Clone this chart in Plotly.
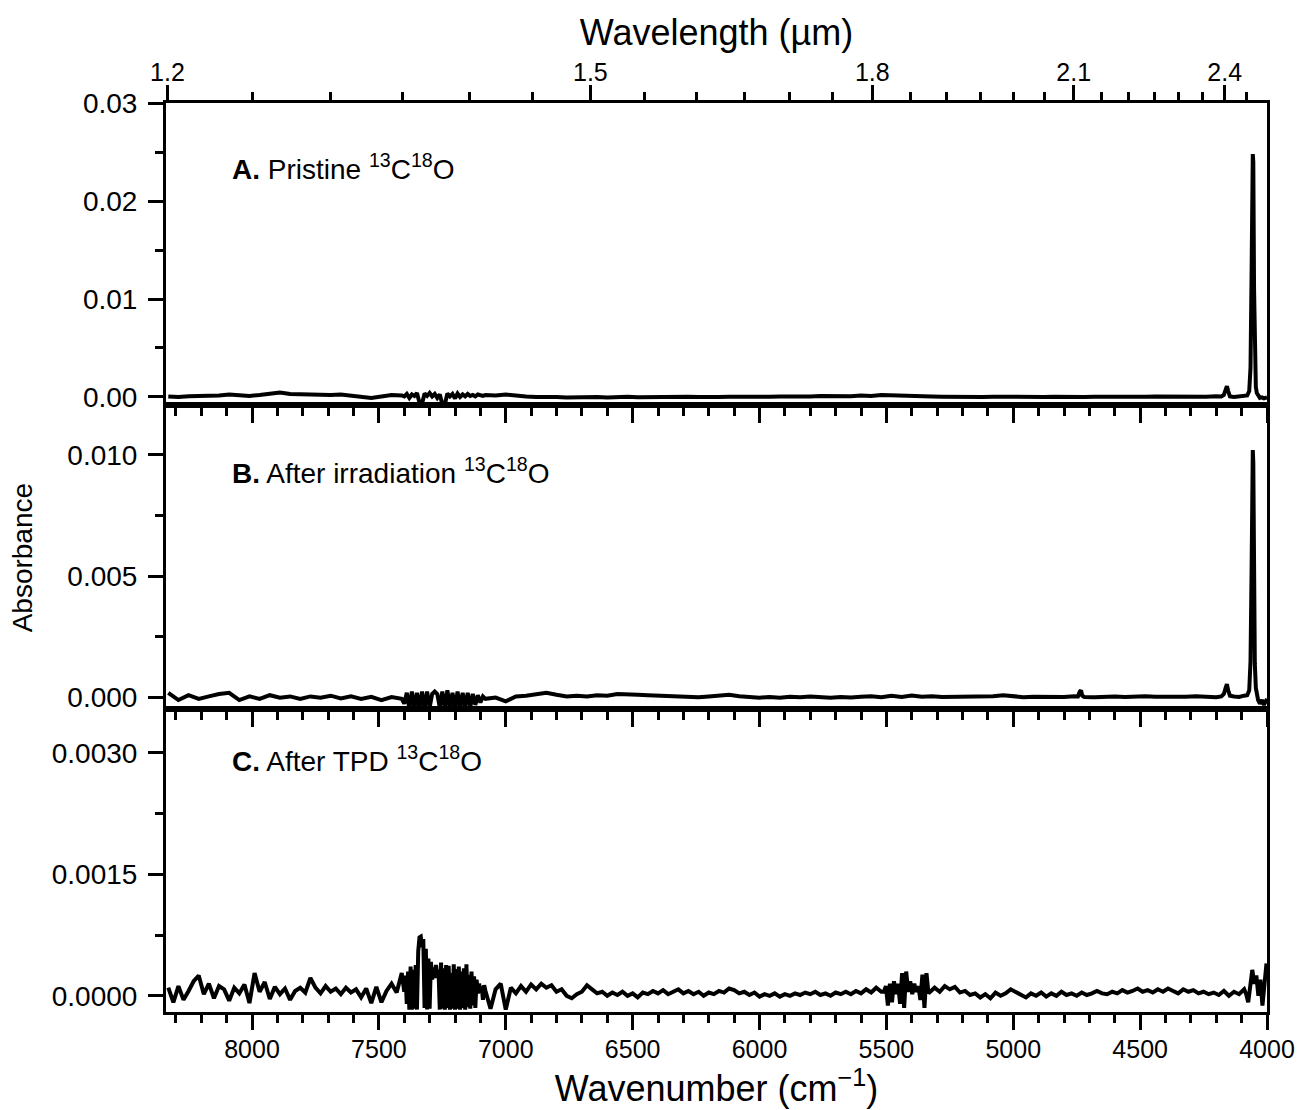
import plotly.graph_objects as go

FONT = "Liberation Sans, Arial, sans-serif"

# ---------------- data (absorbance values in units of 1e-4) ----------------
# Panels A and B share one wavenumber grid (cm^-1)
wn_ab = [8330, 8290, 8250, 8210, 8170, 8130, 8090, 8050, 8010, 7970, 7930, 7890,
         7850, 7810, 7770, 7730, 7690, 7650, 7610, 7570, 7530, 7490, 7450, 7410,
         7400, 7390, 7380, 7370, 7360, 7350, 7340, 7330, 7320, 7310, 7300, 7290,
         7280, 7270, 7260, 7250, 7240, 7230, 7220, 7210, 7200, 7190, 7180, 7170,
         7160, 7150, 7140, 7130, 7120, 7110, 7100, 7090, 7080,
         7040, 7000, 6960, 6920, 6880, 6840, 6800, 6760, 6720, 6680, 6640, 6600,
         6560, 6520, 6480, 6440, 6400, 6360, 6320, 6280, 6240, 6200, 6160, 6120,
         6080, 6040, 6000, 5960, 5920, 5880, 5840, 5800, 5760, 5720, 5680, 5640,
         5600, 5560, 5520, 5480, 5440, 5400, 5360, 5320, 5280, 5240, 5200, 5160,
         5120, 5080, 5040, 5000, 4960, 4920, 4880, 4840, 4800, 4760,
         4745, 4738, 4733, 4728,
         4720, 4680, 4640, 4600, 4560, 4520, 4480, 4440, 4400, 4360, 4320, 4280,
         4240, 4200,
         4180, 4170, 4163, 4158, 4153, 4146, 4130, 4110, 4090, 4078, 4070, 4065,
         4061, 4058, 4056, 4054, 4051, 4048, 4044, 4040, 4035, 4028, 4020, 4012,
         4004, 4000]

abs_a_e4 = [0.5, 0.0, 0.8, 1.0, 0.5, 1.5, 2.5, 1.5, 1.0, 2.0, 3.5, 4.5,
            3.0, 2.5, 3.0, 2.5, 2.0, 2.5, 1.5, 0.0, -1.0, 0.5, 2.0, 1.5,
            0.5, 3.0, -1.0, 2.5, 1.0, 4.0, -6.0, -7.0, 3.5, 1.0, 4.0, 0.5,
            3.0, -1.0, 2.5, -7.5, -7.5, 3.5, 0.5, 3.0, -1.5, 3.5, 0.0, 2.5,
            0.5, 3.0, 1.0, 2.0, 0.5, 2.5, 1.5, 1.0, 2.0,
            1.5, 2.5, 1.0, 0.5, 0.0, 0.5, 0.0, -0.5, 0.0, 0.5, 0.0, -0.5,
            0.0, 0.3, -0.3, 0.0, 0.2, -0.2, 0.0, 0.3, 0.0, -0.3, 0.0, 0.2,
            0.0, -0.2, 0.0, 0.3, 0.5, 0.3, 0.8, 0.5, 1.0, 0.7, 1.2, 0.8,
            1.5, 1.0, 2.0, 1.5, 2.0, 1.2, 0.8, 0.5, 0.3, 0.0, 0.2, -0.2,
            0.0, 0.2, 0.0, -0.2, 0.0, 0.2, 0.0, 0.3, 0.0, 0.2,
            0.0, 0.2, 0.0, 0.3,
            0.0, 0.2, 0.0, 0.3, 0.1, 0.4, 0.2, 0.5, 0.3, 0.6, 0.4, 0.5,
            0.3, 0.6,
            0.5, 2.0, 8.0, 11.0, 6.0, 0.5, 0.0, 0.3, 0.5, 1.5, 6.0, 30.0,
            120.0, 235.0, 248.0, 240.0, 110.0, 35.0, 10.0, 4.0, 1.5, -1.0, -0.5, -1.5,
            -0.8, -0.5]

abs_b_e4 = [2.0, -1.0, 1.0, -0.5, 0.5, 1.5, 2.0, -1.0, 0.5, -0.5, 1.0, 0.0,
            0.5, -0.5, 0.5, 0.0, 0.8, -0.3, 0.5, -0.5, 0.3, -1.0, 0.2, -0.5,
            -2.5, 2.0, -4.5, 2.5, -4.5, 2.0, -4.5, 2.5, -4.5, 2.5, -4.0, 1.5,
            2.5, 1.5, -4.0, 2.5, -4.5, 3.0, -4.5, 2.0, -4.5, 2.5, -4.5, 2.0,
            -4.0, 2.0, -4.0, 1.5, -3.0, 1.0, -2.0, 0.5, -0.5,
            0.0, -1.5, 0.5, 0.8, 1.5, 2.0, 1.2, 0.5, 0.8, 0.5, 1.0, 0.8,
            1.5, 1.5, 1.2, 1.0, 0.8, 0.5, 0.3, 0.5, 0.2, 0.5, 0.8, 1.2,
            0.6, 0.3, 0.0, 0.3, 0.0, 0.4, 0.2, 0.5, 0.3, 0.0, 0.3, 0.1,
            0.4, 0.6, 0.2, 0.8, 0.3, 0.9, 0.4, 0.6, 0.3, 0.4, 0.2, 0.5,
            0.3, 0.6, 1.0, 0.5, 0.2, 0.4, 0.3, 0.5, 0.3, 0.6,
            0.5, 2.5, 3.0, 0.8,
            0.3, 0.2, 0.4, 0.5, 0.3, 0.5, 0.6, 0.4, 0.3, 0.5, 0.4, 0.6,
            0.3, 0.2,
            0.5, 1.5, 4.0, 5.5, 3.0, 0.8, 0.5, 0.3, 0.8, 1.0, 3.0, 15.0,
            50.0, 97.0, 102.0, 97.0, 45.0, 14.0, 4.0, 1.0, -1.0, -2.5, -1.0, -3.0,
            -1.5, -0.5]

# Panel C has its own, denser grid
wn_c = [8330, 8310, 8290, 8270, 8250, 8230, 8210, 8190, 8170, 8150,
        8130, 8110, 8090, 8070, 8050, 8030, 8010, 7990, 7970, 7950,
        7930, 7910, 7890, 7870, 7850, 7830, 7810, 7790, 7770, 7750,
        7730, 7710, 7690, 7670, 7650, 7630, 7610, 7590, 7570, 7550,
        7530, 7510, 7490, 7470, 7450, 7430, 7410,
        7400, 7395, 7390, 7385, 7380, 7375, 7370, 7365, 7360, 7355,
        7350, 7345, 7340, 7335, 7330, 7325, 7320, 7315, 7310, 7305,
        7300, 7295, 7290, 7285, 7280, 7275, 7270, 7265, 7260, 7255,
        7250, 7245, 7240, 7235, 7230, 7225, 7220, 7215, 7210, 7205,
        7200, 7195, 7190, 7185, 7180, 7175, 7170, 7165, 7160, 7155,
        7150, 7145, 7140, 7135, 7130, 7125, 7120, 7115, 7110, 7105,
        7100, 7095, 7090, 7085, 7080,
        7060, 7040, 7020, 7000, 6980, 6960, 6940, 6920, 6900, 6880,
        6860, 6840, 6820, 6800, 6780, 6760, 6740, 6720, 6700, 6680,
        6660, 6640, 6620, 6600, 6580, 6560, 6540, 6520, 6500, 6480,
        6460, 6440, 6420, 6400, 6380, 6360, 6340, 6320, 6300, 6280,
        6260, 6240, 6220, 6200, 6180, 6160, 6140, 6120, 6100, 6080,
        6060, 6040, 6020, 6000, 5980, 5960, 5940, 5920, 5900, 5880,
        5860, 5840, 5820, 5800, 5780, 5760, 5740, 5720, 5700, 5680,
        5660, 5640, 5620, 5600, 5580, 5560, 5540, 5520,
        5510, 5502, 5494, 5486, 5478, 5470, 5462, 5454, 5446, 5438,
        5430, 5422, 5414, 5406, 5398, 5390, 5382, 5374, 5366, 5358,
        5350, 5342, 5334,
        5310, 5290, 5270, 5250, 5230, 5210, 5190, 5170, 5150, 5130,
        5110, 5090, 5070, 5050, 5030, 5010, 4990, 4970, 4950, 4930,
        4910, 4890, 4870, 4850, 4830, 4810, 4790, 4770, 4750, 4730,
        4710, 4690, 4670, 4650, 4630, 4610, 4590, 4570, 4550, 4530,
        4510, 4490, 4470, 4450, 4430, 4410, 4390, 4370, 4350, 4330,
        4310, 4290, 4270, 4250, 4230, 4210, 4190, 4170, 4150, 4130,
        4110, 4090,
        4082, 4074, 4066, 4058, 4050, 4042, 4034, 4026, 4018, 4010, 4002]

abs_c_e4 = [1.0, -0.8, 1.2, -0.5, 0.6, 1.8, 2.5, 0.2, 1.5, -0.3,
            1.2, 0.8, -0.6, 1.0, 0.3, 1.4, -0.9, 2.8, 0.5, 1.7,
            -0.4, 1.1, 0.2, 0.9, -0.5, 0.6, 1.0, 0.4, 2.2, 1.0,
            0.3, 1.2, 0.5, 0.9, 0.2, 1.0, 0.4, 0.8, -0.2, 0.9,
            -0.9, 1.1, -0.8, 0.6, 1.5, 0.4, 2.8,
            0.5, 2.5, -1.0, 3.0, -1.7, 3.6, -1.7, 3.2, -1.6, 3.8,
            -1.7, 5.5, 7.2, 7.3, 6.0, 7.0, -1.5, 5.8, -1.7, 4.6,
            -1.6, 4.2, 2.0, 3.5, 2.2, 3.8, 2.5, 3.2, -1.7, 4.1,
            -1.6, 3.4, -1.7, 3.8, -1.5, 3.7, -1.7, 2.8, -1.6, 3.9,
            -1.7, 3.3, -1.6, 3.6, -1.7, 3.0, -1.5, 3.4, -1.7, 3.9,
            -1.4, 2.6, -1.6, 3.0, -1.2, 2.4, -1.5, 2.0, 0.3, 1.5,
            0.4, 1.2, -0.5, 1.3, 0.6,
            -1.6, 0.8, 1.5, -1.7, 1.0, 0.3, 1.2, 0.5, 1.4, 0.8,
            1.5, 1.0, 1.3, 0.5, 0.8, 0.0, -0.3, 0.2, 0.5, 1.3,
            0.8, 0.3, 0.5, 0.0, 0.4, 0.1, 0.5, 0.0, 0.3, -0.2,
            0.4, 0.2, 0.6, 0.3, 0.7, 0.2, 0.5, 0.8, 0.3, 0.6,
            0.2, 0.5, 0.0, 0.4, 0.2, 0.6, 0.4, 0.9, 0.7, 0.3,
            0.5, 0.1, 0.4, -0.1, 0.2, 0.0, 0.3, -0.1, 0.2, 0.0,
            0.3, 0.1, 0.4, 0.2, 0.5, 0.1, 0.3, 0.0, 0.4, 0.2,
            0.5, 0.2, 0.6, 0.3, 0.8, 0.4, 1.0, 0.5,
            0.5, 1.2, -1.2, 1.5, -0.8, 1.8, 0.2, 1.5, -1.0, 2.8,
            -1.5, 3.0, 0.5, 1.8, 0.2, 1.5, 0.5, 1.2, -0.5, 2.6,
            -1.5, 2.8, 0.3,
            1.0, 0.5, 1.2, 0.8, 1.1, 0.4, 0.6, 0.1, 0.3, -0.2,
            0.2, -0.3, 0.4, 0.0, 0.3, 0.8, 0.5, 0.2, -0.2, 0.3,
            0.0, 0.4, -0.1, 0.3, 0.0, 0.5, 0.1, 0.3, 0.0, 0.4,
            0.1, 0.3, 0.6, 0.3, 0.2, 0.5, 0.3, 0.7, 0.4, 0.6,
            0.9, 0.5, 0.7, 0.4, 0.8, 0.5, 0.9, 0.6, 0.3, 0.8,
            0.5, 0.7, 0.3, 0.5, 0.2, 0.4, 0.1, 0.6, 0.0, 0.5,
            0.2, 0.8,
            0.2, -0.8, 1.2, 3.2, 1.5, 2.5, 0.0, 2.0, -1.2, 2.0, 4.0]

assert len(wn_ab) == len(abs_a_e4) == len(abs_b_e4), (len(wn_ab), len(abs_a_e4), len(abs_b_e4))
assert len(wn_c) == len(abs_c_e4), (len(wn_c), len(abs_c_e4))

# Top axis (wavelength, micrometres)
wl_major = [1.2, 1.5, 1.8, 2.1, 2.4]
wl_major_text = ["1.2", "1.5", "1.8", "2.1", "2.4"]
wl_minor = [1.25, 1.30, 1.35, 1.40, 1.45, 1.55, 1.60, 1.65, 1.70, 1.75,
            1.85, 1.90, 1.95, 2.00, 2.05, 2.15, 2.20, 2.25, 2.30, 2.35, 2.45]

panel_labels = ["<b>A.</b> Pristine <sup>13</sup>C<sup>18</sup>O",
                "<b>B.</b> After irradiation <sup>13</sup>C<sup>18</sup>O",
                "<b>C.</b> After TPD <sup>13</sup>C<sup>18</sup>O"]

# ---------------- figure ----------------
E4 = 1e-4
line = dict(color="black", width=4)
fig = go.Figure()
fig.add_trace(go.Scatter(x=wn_ab, y=[v * E4 for v in abs_a_e4], xaxis="x", yaxis="y",
                         mode="lines", line=line, showlegend=False))
fig.add_trace(go.Scatter(x=wn_ab, y=[v * E4 for v in abs_b_e4], xaxis="x2", yaxis="y2",
                         mode="lines", line=line, showlegend=False))
fig.add_trace(go.Scatter(x=wn_c, y=[v * E4 for v in abs_c_e4], xaxis="x3", yaxis="y3",
                         mode="lines", line=line, showlegend=False))
# carrier for the top wavelength axis (no visible marks)
fig.add_trace(go.Scatter(x=[1e4 / w for w in wl_major], y=[None] * len(wl_major),
                         xaxis="x4", yaxis="y", mode="lines", showlegend=False,
                         hoverinfo="skip"))

XR = [8339, 4000]
tickfont = dict(family=FONT, size=25, color="black")
common_x = dict(range=XR, showline=True, linecolor="black", linewidth=3, mirror=True,
                ticks="outside", ticklen=15, tickwidth=3, tickcolor="black",
                tickmode="linear", tick0=4000, dtick=500,
                minor=dict(ticks="outside", ticklen=8, tickwidth=3, tickcolor="black",
                           dtick=100),
                showgrid=False, zeroline=False, tickfont=tickfont, ticklabelstandoff=-2,
                automargin=False)
common_y = dict(showline=True, linecolor="black", linewidth=3, mirror=True,
                ticks="outside", ticklen=15, tickwidth=3, tickcolor="black",
                showgrid=False, zeroline=False, tickfont=dict(family=FONT, size=28, color="black"),
                tickmode="linear", tick0=0, ticklabelstandoff=5, automargin=False)

fig.update_layout(
    width=1300, height=1110,
    margin=dict(l=166, r=33, t=103, b=98, autoexpand=False),
    paper_bgcolor="white", plot_bgcolor="white",
    xaxis=dict(common_x, anchor="y", showticklabels=False),
    xaxis2=dict(common_x, anchor="y2", showticklabels=False),
    xaxis3=dict(common_x, anchor="y3",
                title=dict(text="Wavenumber (cm<sup>\u2212</sup><sup>1</sup>)",
                           font=dict(family=FONT, size=36, color="black"), standoff=0)),
    xaxis4=dict(range=XR, overlaying="x", side="top", anchor="y",
                showline=True, linecolor="black", linewidth=3,
                ticks="outside", ticklen=15, tickwidth=3, tickcolor="black",
                tickmode="array", tickvals=[1e4 / w for w in wl_major], ticktext=wl_major_text,
                minor=dict(tickmode="array", tickvals=[1e4 / w for w in wl_minor],
                           ticks="outside", ticklen=8, tickwidth=3, tickcolor="black"),
                showgrid=False, zeroline=False, tickfont=tickfont, ticklabelstandoff=-6,
                automargin=False,
                title=dict(text="Wavelength (\u00b5m)",
                           font=dict(family=FONT, size=36, color="black"), standoff=2)),
    yaxis=dict(common_y, domain=[0.6678, 1.0], anchor="x", range=[-0.00082, 0.03002],
               dtick=0.01, tickformat=".2f",
               minor=dict(ticks="outside", ticklen=8, tickwidth=3, tickcolor="black", dtick=0.005)),
    yaxis2=dict(common_y, domain=[0.3333, 0.6678], anchor="x2", range=[-0.00047, 0.01206],
                dtick=0.005, tickformat=".3f",
                minor=dict(ticks="outside", ticklen=8, tickwidth=3, tickcolor="black", dtick=0.0025)),
    yaxis3=dict(common_y, domain=[0.0, 0.3333], anchor="x3", range=[-0.0002, 0.00354],
                dtick=0.0015, tickformat=".4f",
                minor=dict(ticks="outside", ticklen=8, tickwidth=3, tickcolor="black", dtick=0.00075)),
)

ann_y = [0.9296, 0.5952, 0.2785]
for txt, yy in zip(panel_labels, ann_y):
    fig.add_annotation(text=txt, xref="paper", yref="paper", x=0.0581, y=yy,
                       xanchor="left", yanchor="middle", showarrow=False,
                       font=dict(family=FONT, size=28, color="black"))

fig.add_annotation(text="Absorbance", xref="paper", yref="paper", x=-0.130, y=0.5,
                   xanchor="center", yanchor="middle", textangle=-90, showarrow=False,
                   font=dict(family=FONT, size=28, color="black"))

fig.write_html("out.html")
